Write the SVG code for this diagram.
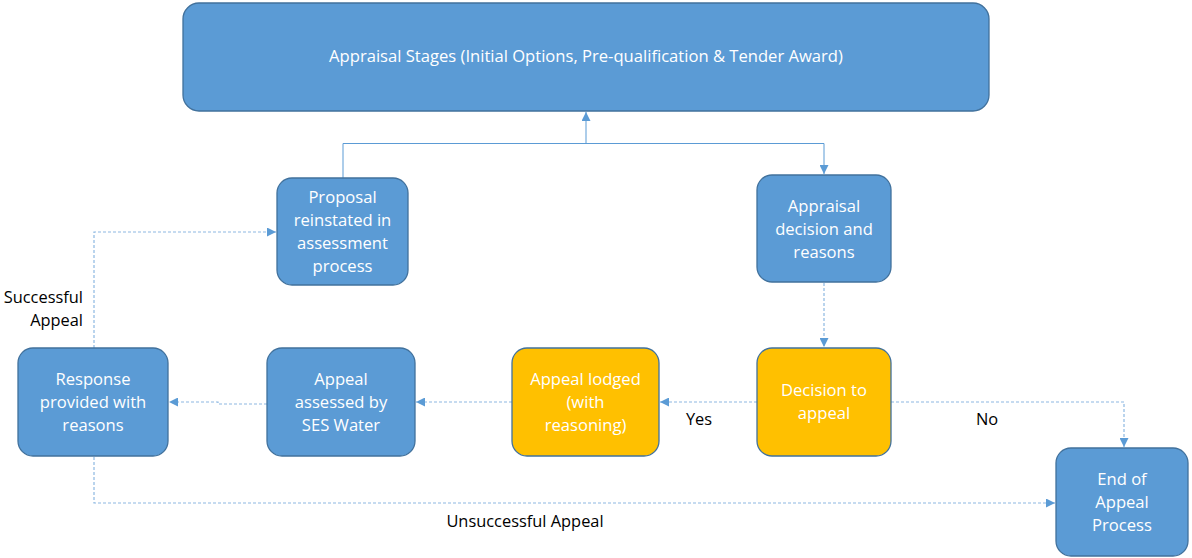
<svg xmlns="http://www.w3.org/2000/svg" width="1192" height="558" viewBox="0 0 1192 558">
  <defs>
    <marker id="arrow" viewBox="0 0 10 10" refX="10" refY="5" markerWidth="9" markerHeight="9" markerUnits="userSpaceOnUse" orient="auto">
      <path d="M0,0 L10,5 L0,10 Z" fill="#5B9BD5"/>
    </marker>
    <style>
      .box { fill: #5B9BD5; stroke: #41719C; stroke-width: 1.3; }
      .amber { fill: #FFC000; stroke: #41719C; stroke-width: 1.3; }
      .lbl { fill: #FFFFFF; font-family: "Open Sans", "Noto Sans", sans-serif; font-size: 16.6px; text-anchor: middle; }
      .note { fill: #000000; font-family: "Open Sans", "Noto Sans", sans-serif; font-size: 16.4px; }
      .solid { fill: none; stroke: #5B9BD5; stroke-width: 1; }
      .dash { fill: none; stroke: #8DB8E2; stroke-width: 1.2; stroke-dasharray: 3 2; }
    </style>
  </defs>
  <rect width="1192" height="558" fill="#FFFFFF"/>

  <g id="connectors">
    <path class="solid" d="M343,178 V143.5 H586 V112" marker-end="url(#arrow)"/>
    <path class="solid" d="M586,143.5 H824 V174" marker-end="url(#arrow)"/>
    <path class="dash" d="M824,283 V347" marker-end="url(#arrow)"/>
    <path class="dash" d="M757,402 H660" marker-end="url(#arrow)"/>
    <path class="dash" d="M512,402 H416" marker-end="url(#arrow)"/>
    <path class="dash" d="M267,404 H218 V402 H169" marker-end="url(#arrow)"/>
    <path class="dash" d="M891,402 H1124 V447" marker-end="url(#arrow)"/>
    <path class="dash" d="M94,348 V232 H276" marker-end="url(#arrow)"/>
    <path class="dash" d="M94,457 V503 H1055" marker-end="url(#arrow)"/>
    <text class="note" x="699" y="425" text-anchor="middle">Yes</text>
    <text class="note" x="987" y="425" text-anchor="middle">No</text>
    <text class="note" x="83" y="303" text-anchor="end">Successful</text>
    <text class="note" x="83" y="326" text-anchor="end">Appeal</text>
    <text class="note" x="525" y="527" text-anchor="middle">Unsuccessful Appeal</text>
  </g>

  <g id="appraisal-stages">
    <rect class="box" x="183" y="3" width="806" height="108" rx="16"/>
    <text class="lbl" x="586" y="62">Appraisal Stages (Initial Options, Pre-qualification &amp; Tender Award)</text>
  </g>

  <g id="proposal-reinstated">
    <rect class="box" x="277" y="178" width="131" height="107" rx="15"/>
    <text class="lbl" x="342.5" y="203">Proposal</text>
    <text class="lbl" x="342.5" y="226">reinstated in</text>
    <text class="lbl" x="342.5" y="249">assessment</text>
    <text class="lbl" x="342.5" y="272">process</text>
  </g>

  <g id="appraisal-decision">
    <rect class="box" x="757" y="175" width="134" height="107" rx="15"/>
    <text class="lbl" x="824" y="212">Appraisal</text>
    <text class="lbl" x="824" y="235">decision and</text>
    <text class="lbl" x="824" y="258">reasons</text>
  </g>

  <g id="response-provided">
    <rect class="box" x="18" y="348" width="150" height="108" rx="15"/>
    <text class="lbl" x="93" y="385">Response</text>
    <text class="lbl" x="93" y="408">provided with</text>
    <text class="lbl" x="93" y="431">reasons</text>
  </g>

  <g id="appeal-assessed">
    <rect class="box" x="267" y="348" width="148" height="108" rx="15"/>
    <text class="lbl" x="341" y="385">Appeal</text>
    <text class="lbl" x="341" y="408">assessed by</text>
    <text class="lbl" x="341" y="431">SES Water</text>
  </g>

  <g id="appeal-lodged">
    <rect class="amber" x="512" y="348" width="147" height="108" rx="15"/>
    <text class="lbl" x="585.5" y="385">Appeal lodged</text>
    <text class="lbl" x="585.5" y="408">(with</text>
    <text class="lbl" x="585.5" y="431">reasoning)</text>
  </g>

  <g id="decision-to-appeal">
    <rect class="amber" x="757" y="348" width="134" height="108" rx="15"/>
    <text class="lbl" x="824" y="396">Decision to</text>
    <text class="lbl" x="824" y="419">appeal</text>
  </g>

  <g id="end-of-appeal">
    <rect class="box" x="1056" y="448" width="132" height="108" rx="15"/>
    <text class="lbl" x="1122" y="485">End of</text>
    <text class="lbl" x="1122" y="508">Appeal</text>
    <text class="lbl" x="1122" y="531">Process</text>
  </g>
</svg>
